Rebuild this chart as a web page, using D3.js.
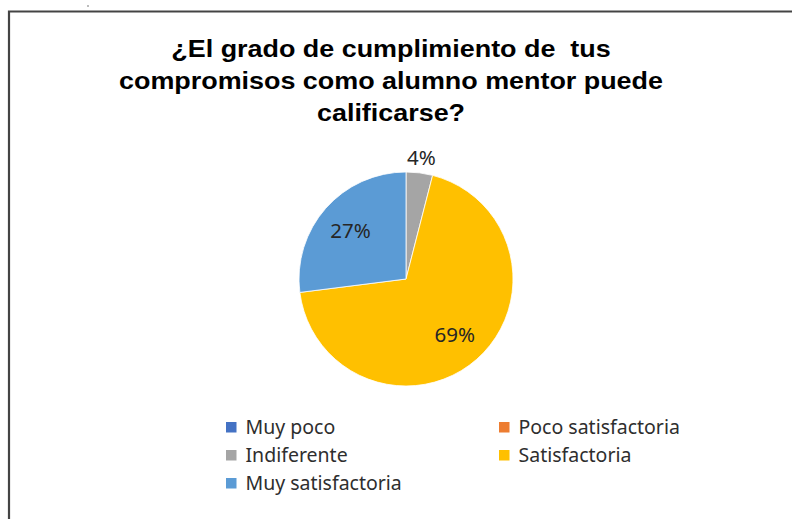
<!DOCTYPE html>
<html>
<head>
<meta charset="utf-8">
<script src="https://cdn.jsdelivr.net/npm/d3@7"></script>
<style>
  html, body { margin: 0; padding: 0; background: #fff; }
  svg { display: block; }
</style>
</head>
<body>
<svg id="chart" width="792" height="519"></svg>
<script>
// chart data
var categories = ['Muy poco', 'Poco satisfactoria', 'Indiferente', 'Satisfactoria', 'Muy satisfactoria'];
var values = [0, 0, 4, 69, 27];   // percent
var colors = ['#4472C4', '#ED7D31', '#A5A5A5', '#FFC000', '#5B9BD5'];
var titleLines = ['¿El grado de cumplimiento de  tus', 'compromisos como alumno mentor puede', 'calificarse?'];

var W = 792, H = 519;
var cx = 406, cy = 279, R = 107;

var svg = d3.select('#chart');

// frame (only top + left edges are visible in the capture)
svg.append('path')
  .attr('d', 'M9,' + H + ' L9,11.5 L' + W + ',11.5')
  .attr('fill', 'none')
  .attr('stroke', '#444')
  .attr('stroke-width', 2.2);
svg.append('circle').attr('cx', 88).attr('cy', 6).attr('r', 0.8).attr('fill', '#666');

// title - bold, a bit stretched horizontally like the source
var titleX = 391, titleY = d3.scaleLinear().domain([0, 2]).range([57, 121]);
svg.append('g').selectAll('text')
  .data(titleLines)
  .join('text')
  .attr('transform', function(d, i) { return 'translate(' + titleX + ',' + titleY(i) + ') scale(1.17,1)'; })
  .attr('text-anchor', 'middle')
  .style('white-space', 'pre')
  .style('font-family', '"Liberation Sans", Arial, sans-serif')
  .style('font-weight', 'bold')
  .style('font-size', '23px')
  .attr('fill', '#000')
  .text(function(d) { return d; });

// pie
var data = categories.map(function(c, i) { return {label: c, value: values[i], color: colors[i]}; });
var pie = d3.pie().sort(null).value(function(d) { return d.value; });
var arcs = pie(data).filter(function(a) { return a.data.value > 0; });
var arc = d3.arc().innerRadius(0).outerRadius(R);
var inLabel = d3.arc().innerRadius(R * 0.69).outerRadius(R * 0.69);
var outLabel = d3.arc().innerRadius(R + 15).outerRadius(R + 15);

var g = svg.append('g').attr('transform', 'translate(' + cx + ',' + cy + ')');
g.selectAll('path')
  .data(arcs)
  .join('path')
  .attr('d', arc)
  .attr('fill', function(d) { return d.data.color; })
  .attr('stroke', '#fff')
  .attr('stroke-width', 0.8);

g.selectAll('text')
  .data(arcs)
  .join('text')
  .attr('transform', function(d) {
    var small = d.data.value < 5;
    return 'translate(' + (small ? outLabel : inLabel).centroid(d) + ')';
  })
  .attr('text-anchor', 'middle')
  .attr('dy', '0.36em')
  .style('font-family', '"Noto Sans", "Open Sans", sans-serif')
  .style('font-size', '20.5px')
  .attr('fill', '#262626')
  .text(function(d) { return d.data.value + '%'; });

// legend, 2 columns
var legX = d3.scaleLinear().domain([0, 1]).range([226, 499]);
var legY = d3.scaleLinear().domain([0, 2]).range([427, 483]);
var leg = svg.append('g').selectAll('g')
  .data(data)
  .join('g')
  .attr('transform', function(d, i) { return 'translate(' + legX(i % 2) + ',' + legY(Math.floor(i / 2)) + ')'; });
leg.append('rect')
  .attr('x', 0).attr('y', -5)
  .attr('width', 10.5).attr('height', 10.5)
  .attr('fill', function(d) { return d.color; });
leg.append('text')
  .attr('x', 19.5)
  .attr('y', 7)
  .style('font-family', '"Noto Sans", "Open Sans", sans-serif')
  .style('font-size', '19.5px')
  .attr('fill', '#2e2e2e')
  .text(function(d) { return d.label; });
</script>
</body>
</html>
